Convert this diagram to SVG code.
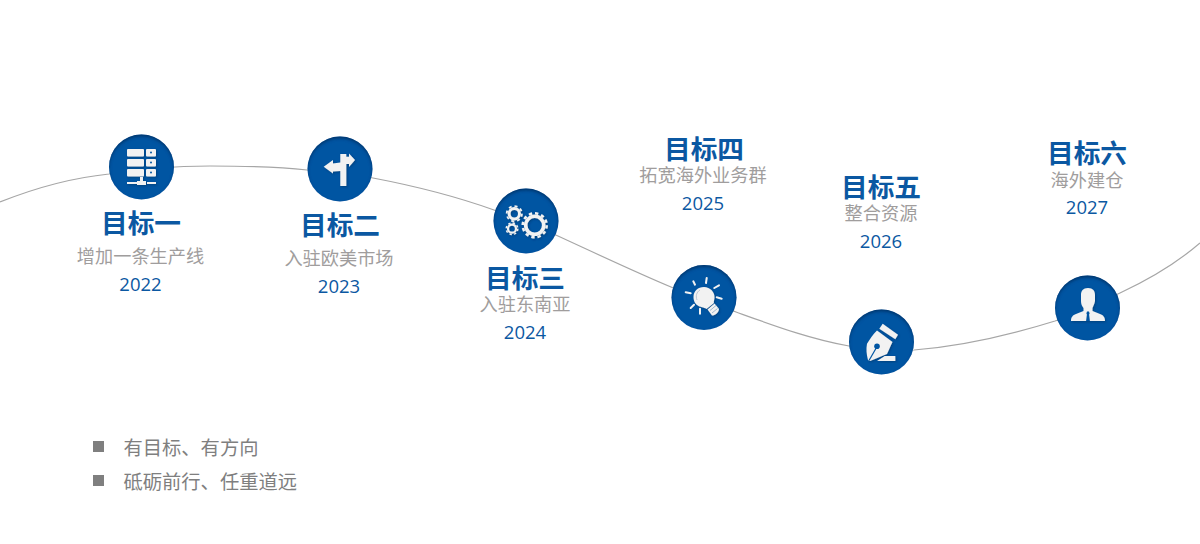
<svg xmlns="http://www.w3.org/2000/svg" width="1200" height="544" viewBox="0 0 1200 544">
<style>
text{font-family:"Noto Sans CJK SC","Microsoft YaHei",sans-serif;text-anchor:middle}
.t{font-size:26.700px;font-weight:700;fill:#0b58a2}
.s{font-size:18.200px;fill:#a09d9d}
.y{font-size:18.500px;fill:#0b58a2;font-family:"Open Sans","Noto Sans",sans-serif}
.b{font-size:19.300px;fill:#7f7f7f;text-anchor:start}
.d{fill:#0055a2;filter:url(#inner)}
.i{fill:#f2f2f2;filter:url(#sh)}
.m{fill:#7f7f7f}
</style>
<defs>
<filter id="inner" x="-10%" y="-10%" width="120%" height="120%">
<feOffset in="SourceAlpha" dy="2" result="o"/>
<feGaussianBlur in="o" stdDeviation="1.600" result="b"/>
<feComposite in="SourceAlpha" in2="b" operator="out" result="c"/>
<feFlood flood-color="#00264f" flood-opacity=".75"/>
<feComposite in2="c" operator="in" result="s"/>
<feMerge><feMergeNode in="SourceGraphic"/><feMergeNode in="s"/></feMerge>
</filter>
<filter id="sh" x="-20%" y="-20%" width="150%" height="150%">
<feDropShadow dx="1" dy="1" stdDeviation=".8" flood-color="#002a55" flood-opacity=".5"/>
</filter>
</defs>
<rect width="1200" height="544" fill="#fff"/>
<g id="connectors">
<path d="M0 202C40 186 80 177 109 174C145 168 175 166 210 166C245 166 280 167 307 170C330 172 352 175 373 178C415 186 455 196 494 210C515 218 535 226 558 236C595 253 635 272 671 287C695 297 715 304 736 312C775 326 810 339 849 346C870 350 890 351 914 350C965 346 1010 335 1055 321C1078 313 1098 303 1120 293C1150 279 1178 262 1200 243" fill="none" stroke="#a6a6a6" stroke-width="1.200"/>
</g>
<g id="node1">
<circle class="d" cx="141.500" cy="167" r="32.500"/>
<g class="i">
<rect x="127" y="149" width="17" height="7.500" rx="1"/><rect x="146" y="149" width="10" height="7.500" rx="1"/>
<rect x="127" y="159" width="17" height="7.500" rx="1"/><rect x="146" y="159" width="10" height="7.500" rx="1"/>
<rect x="127" y="169" width="17" height="7.500" rx="1"/><rect x="146" y="169" width="10" height="7.500" rx="1"/>
<rect x="140" y="177" width="3" height="6"/><rect x="127" y="182" width="10" height="2"/><rect x="137" y="181" width="9" height="4"/><rect x="147" y="182" width="9" height="2"/>
</g>
<g fill="#0055a2"><circle cx="151" cy="152.500" r="1"/><circle cx="151" cy="162.500" r="1"/><circle cx="151" cy="172.500" r="1"/></g>
<text class="t" x="141" y="233">目标一</text>
<text class="s" x="140.500" y="263">增加一条生产线</text>
<text class="y" x="140.500" y="291">2022</text>
</g>
<g id="node2">
<circle class="d" cx="340" cy="169" r="32.500"/>
<path class="i" d="M323.700 166.700L333 160V163.500L340.300 162.500V154H346.300V156.700H349V153.500L355 160L349 167V164H346.300V186H340.300V171L333 171.500V173.500Z"/>
<text class="t" x="340" y="235">目标二</text>
<text class="s" x="339" y="265">入驻欧美市场</text>
<text class="y" x="339" y="293">2023</text>
</g>
<g id="node3">
<circle class="d" cx="526" cy="221" r="32.500"/>
<g fill="none" stroke="#f2f2f2" filter="url(#sh)">
<circle cx="514.300" cy="213.700" r="5.200" stroke-width="3"/><circle cx="514.300" cy="213.700" r="7.600" stroke-width="1.800" stroke-dasharray="3 2.970"/>
<circle cx="512" cy="228.700" r="4" stroke-width="2.200"/><circle cx="512" cy="228.700" r="5.800" stroke-width="1.400" stroke-dasharray="2.300 2.250"/>
<circle cx="534.700" cy="225.300" r="9" stroke-width="3.600"/><circle cx="534.700" cy="225.300" r="12" stroke-width="2.500" stroke-dasharray="3.300 2.980"/>
</g>
<text class="t" x="525" y="288">目标三</text>
<text class="s" x="525" y="311">入驻东南亚</text>
<text class="y" x="525" y="339">2024</text>
</g>
<g id="node4">
<circle class="d" cx="704" cy="297.500" r="32.500"/>
<path class="i" d="M704 287C710 287 715 292 714.500 298C714 301 713.500 302 714 303L706.500 309C704 307 700 307.500 697 305C694 302.500 693.500 299 693.500 297C693.500 291 698 287 704 287Z"/>
<path class="i" d="M707.500 309.500L714.500 303.500L719 309C718.500 313 715 315.500 712 315.500Z"/>
<path d="M710 310.500L716 305.500M712 313L717.500 308.500" stroke="#8fa9c4" stroke-width=".8" fill="none"/>
<path d="M697 300C695.500 296 696.500 292 700 290" stroke="#aebdcc" stroke-width=".8" fill="none"/>
<path d="M693.300 281.300L695 284.700M706.700 278L706 283M714.300 288L719 285.300M716.700 297.300L721.700 298.700M685.700 292.300L690.700 293.300M690.700 308L694 304.700M700 308.700V313.700" stroke="#f2f2f2" stroke-width="2" stroke-linecap="round" fill="none"/>
<text class="t" x="704" y="159">目标四</text>
<text class="s" x="703" y="182">拓宽海外业务群</text>
<text class="y" x="703" y="210">2025</text>
</g>
<g id="node5">
<circle class="d" cx="881.500" cy="342" r="32.500"/>
<path class="i" d="M882.700 323.700L898 334.700L895.300 339.300L879.300 328.700Z"/>
<path class="i" d="M877 330.500L892.500 342C890 347 888.500 351 887 354C881 356 876 359 870 361L868 360C866.500 354 866 349 867 343.700C870 339 873 334 877 330.500Z"/>
<circle cx="877" cy="346.300" r="2.800" fill="#0055a2"/>
<path d="M869 360.500L876.500 347.500" stroke="#0055a2" stroke-width="1.200" fill="none"/>
<path class="i" d="M877 361L884.700 356H895.300V361Z"/>
<text class="t" x="881" y="197">目标五</text>
<text class="s" x="881" y="220">整合资源</text>
<text class="y" x="881" y="248">2026</text>
</g>
<g id="node6">
<circle class="d" cx="1087.500" cy="308" r="32.500"/>
<path class="i" d="M1088 288C1093 288 1095 291 1095 295V301C1094.500 304 1093 306.500 1092.500 308V311L1100 314C1103 315 1105 317 1105 321H1071C1071 317 1073 315 1076 314L1083.500 311V308C1082 306 1081 304 1081 301V295C1081 291 1083 288 1088 288Z"/>
<path d="M1087 311.500H1089L1089.600 313.500L1089.100 314.500L1089.900 321H1086.100L1086.900 314.500L1086.400 313.500Z" fill="#0055a2"/>
<text class="t" x="1087" y="163">目标六</text>
<text class="s" x="1087" y="187">海外建仓</text>
<text class="y" x="1087" y="214">2027</text>
</g>
<g id="notes">
<rect class="m" x="93" y="441" width="11" height="11"/>
<text class="b" x="123.500" y="454.500">有目标、有方向</text>
<rect class="m" x="93" y="475" width="11" height="11"/>
<text class="b" x="123.500" y="488.500">砥砺前行、任重道远</text>
</g>
</svg>
